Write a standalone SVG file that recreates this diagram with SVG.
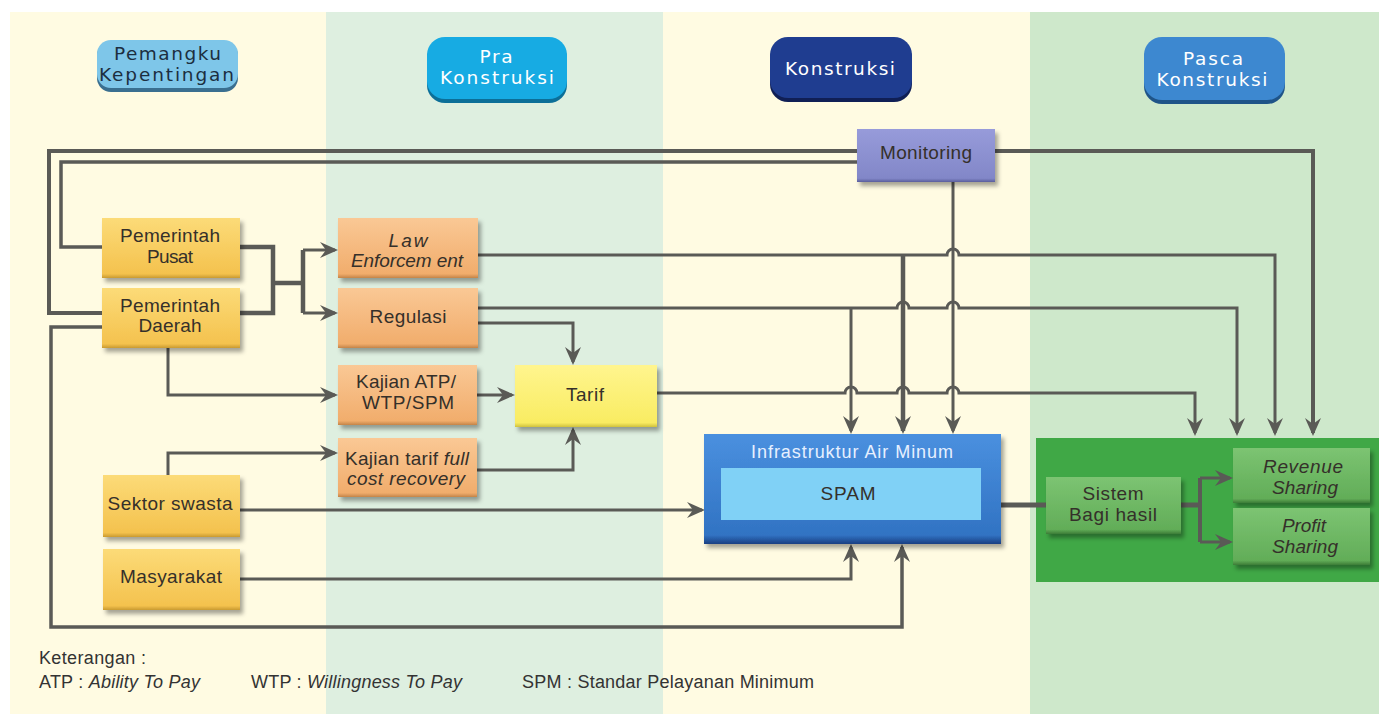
<svg xmlns="http://www.w3.org/2000/svg" width="1379" height="714" viewBox="0 0 1379 714">
<style>
.ln{fill:none;stroke:#5a5a56;stroke-width:3}
.tk{stroke-width:4.5}
.ar{marker-end:url(#ah)}
.t{font-family:"Liberation Sans",Arial,sans-serif;font-size:19px;fill:#35302a;text-anchor:middle}
.i{font-style:italic}
.h{font-family:"DejaVu Sans",Verdana,sans-serif;font-size:18.5px;text-anchor:middle}
.lg{font-family:"Liberation Sans",Arial,sans-serif;font-size:18px;fill:#333}
</style>
<defs>
<marker id="ah" markerUnits="userSpaceOnUse" viewBox="0 0 18 16" markerWidth="18" markerHeight="16" refX="15" refY="8" orient="auto">
<path d="M0,0 L18,8 L0,16 L6,8 Z" fill="#5a5a56"/>
</marker>
<filter id="sh" x="-10%" y="-10%" width="130%" height="140%">
<feDropShadow dx="3" dy="4" stdDeviation="2" flood-color="#000" flood-opacity="0.35"/>
</filter>
<linearGradient id="gy" x1="0" y1="0" x2="0" y2="1"><stop offset="0" stop-color="#fcdb78"/><stop offset="0.93" stop-color="#f4c24e"/><stop offset="1" stop-color="#c99a30"/></linearGradient>
<linearGradient id="go" x1="0" y1="0" x2="0" y2="1"><stop offset="0" stop-color="#fac895"/><stop offset="0.93" stop-color="#f1ad6c"/><stop offset="1" stop-color="#c48448"/></linearGradient>
<linearGradient id="gt" x1="0" y1="0" x2="0" y2="1"><stop offset="0" stop-color="#fff58e"/><stop offset="0.93" stop-color="#f9ec62"/><stop offset="1" stop-color="#cfc23e"/></linearGradient>
<linearGradient id="gm" x1="0" y1="0" x2="0" y2="1"><stop offset="0" stop-color="#979bda"/><stop offset="0.93" stop-color="#8287c8"/><stop offset="1" stop-color="#5a5e9c"/></linearGradient>
<linearGradient id="gg" x1="0" y1="0" x2="0" y2="1"><stop offset="0" stop-color="#7cc472"/><stop offset="0.92" stop-color="#62ad58"/><stop offset="1" stop-color="#3d7c37"/></linearGradient>
<linearGradient id="gb" x1="0" y1="0" x2="0" y2="1"><stop offset="0" stop-color="#4a90df"/><stop offset="0.92" stop-color="#3173c3"/><stop offset="1" stop-color="#1b3f82"/></linearGradient>
</defs>

<!-- backgrounds -->
<rect x="0" y="0" width="1379" height="714" fill="#ffffff"/>
<rect x="10" y="12" width="316" height="702" fill="#fffbe2"/>
<rect x="326" y="12" width="337" height="702" fill="#deefe0"/>
<rect x="663" y="12" width="367" height="702" fill="#fffbe2"/>
<rect x="1030" y="12" width="349" height="702" fill="#cee8cb"/>
<rect x="1036" y="438" width="343" height="144" fill="#40a846"/>

<!-- header pills -->
<g id="hdr-pemangku">
<rect x="97" y="42" width="141" height="50" rx="14" fill="#3a6f90"/>
<rect x="97" y="40" width="141" height="48" rx="14" fill="#7ec6e9"/>
<text class="h" x="167.5" y="60" textLength="107" fill="#1c2e40">Pemangku</text>
<text class="h" x="166.5" y="81" textLength="135" fill="#1c2e40">Kepentingan</text>
</g>
<g id="hdr-pra">
<rect x="427" y="40" width="140" height="63" rx="18" fill="#0c6f98"/>
<rect x="427" y="37" width="140" height="62" rx="18" fill="#17abe3"/>
<text class="h" x="496" y="63" textLength="33" fill="#ffffff">Pra</text>
<text class="h" x="497" y="84" textLength="114" fill="#ffffff">Konstruksi</text>
</g>
<g id="hdr-konstruksi">
<rect x="770" y="40" width="142" height="62" rx="18" fill="#101f55"/>
<rect x="770" y="37" width="142" height="61" rx="18" fill="#1f3d90"/>
<text class="h" x="840" y="75" textLength="110" fill="#ffffff">Konstruksi</text>
</g>
<g id="hdr-pasca">
<rect x="1144" y="40" width="141" height="64" rx="18" fill="#1f5488"/>
<rect x="1144" y="37" width="141" height="63" rx="18" fill="#3d88d0"/>
<text class="h" x="1213" y="65" textLength="60" fill="#ffffff">Pasca</text>
<text class="h" x="1212" y="86" textLength="111" fill="#ffffff">Konstruksi</text>
</g>

<!-- connectors -->
<g id="connectors">
<path class="ln" style="stroke-width:4" d="M857,151 H49 V313 H102"/>
<path class="ln" style="stroke-width:3.5" d="M857,162 H61 V247 H102"/>
<path class="ln ar" style="stroke-width:4" d="M995,151 H1313 V433"/>
<path class="ln ar" d="M953,182 V431"/>
<path class="ln ar" d="M478,255 H947 A6,6 0 0 1 959,255 H1275 V433"/>
<path class="ln tk ar" d="M903,255 V431"/>
<path class="ln ar" d="M478,308 H897 A6,6 0 0 1 909,308 H947 A6,6 0 0 1 959,308 H1237 V433"/>
<path class="ln ar" d="M851,308 V431"/>
<path class="ln ar" d="M478,323 H573 V362"/>
<path class="ln ar" d="M657,393 H845 A6,6 0 0 1 857,393 H897 A6,6 0 0 1 909,393 H947 A6,6 0 0 1 959,393 H1195 V433"/>
<path class="ln tk" d="M240,247 H273 V313 H240"/>
<path class="ln tk" d="M273,283 H303"/>
<path class="ln tk" d="M303,250 V313"/>
<path class="ln ar" d="M303,250 H335"/>
<path class="ln ar" d="M303,313 H335"/>
<path class="ln ar" d="M168,348 V395 H335"/>
<path class="ln ar" d="M477,395 H512"/>
<path class="ln ar" d="M168,475 V453 H335"/>
<path class="ln ar" d="M477,470 H573 V430"/>
<path class="ln ar" d="M240,510 H702"/>
<path class="ln ar" d="M240,579 H851 V547"/>
<path class="ln ar" style="stroke-width:3.5" d="M102,327 H51 V627 H902 V547"/>
<path class="ln" style="stroke-width:5" d="M1001,505 H1046"/>
<path class="ln" style="stroke-width:5" d="M1181,505 H1200"/>
<path class="ln" style="stroke-width:4" d="M1200,478 V542"/>
<path class="ln ar" d="M1200,478 H1230"/>
<path class="ln ar" d="M1200,542 H1230"/>
</g>

<!-- nodes -->
<g id="pemerintah-pusat">
<rect x="102" y="218" width="138" height="60" fill="url(#gy)" filter="url(#sh)"/>
<text class="t" x="170" y="242" textLength="100">Pemerintah</text>
<text class="t" x="170" y="263" textLength="46">Pusat</text>
</g>
<g id="pemerintah-daerah">
<rect x="102" y="288" width="138" height="60" fill="url(#gy)" filter="url(#sh)"/>
<text class="t" x="170" y="312" textLength="100">Pemerintah</text>
<text class="t" x="170" y="332" textLength="63">Daerah</text>
</g>
<g id="sektor-swasta">
<rect x="103" y="475" width="137" height="62" fill="url(#gy)" filter="url(#sh)"/>
<text class="t" x="170" y="510" textLength="125">Sektor swasta</text>
</g>
<g id="masyarakat">
<rect x="103" y="549" width="137" height="61" fill="url(#gy)" filter="url(#sh)"/>
<text class="t" x="171" y="583" textLength="102">Masyarakat</text>
</g>
<g id="law-enforcement">
<rect x="338" y="218" width="140" height="60" fill="url(#go)" filter="url(#sh)"/>
<text class="t i" x="408" y="247" textLength="39">Law</text>
<text class="t i" x="407" y="267" textLength="112">Enforcem ent</text>
</g>
<g id="regulasi">
<rect x="338" y="288" width="140" height="60" fill="url(#go)" filter="url(#sh)"/>
<text class="t" x="408" y="323" textLength="77">Regulasi</text>
</g>
<g id="kajian-atp">
<rect x="338" y="365" width="139" height="60" fill="url(#go)" filter="url(#sh)"/>
<text class="t" x="406" y="388" textLength="100">Kajian ATP/</text>
<text class="t" x="408" y="409" textLength="92">WTP/SPM</text>
</g>
<g id="kajian-tarif">
<rect x="338" y="438" width="139" height="59" fill="url(#go)" filter="url(#sh)"/>
<text class="t" x="407" y="465" textLength="124">Kajian tarif <tspan class="i">full</tspan></text>
<text class="t i" x="406" y="485" textLength="118">cost recovery</text>
</g>
<g id="tarif">
<rect x="515" y="365" width="142" height="62" fill="url(#gt)" filter="url(#sh)"/>
<text class="t" x="585" y="401" textLength="38">Tarif</text>
</g>
<g id="monitoring">
<rect x="857" y="129" width="138" height="53" fill="url(#gm)" filter="url(#sh)"/>
<text class="t" x="926" y="159" textLength="92" fill="#22254f">Monitoring</text>
</g>
<g id="infrastruktur">
<rect x="704" y="434" width="297" height="110" fill="url(#gb)" filter="url(#sh)"/>
<text class="t" x="852" y="458" textLength="202" style="font-size:18px;fill:#e6f0ff">Infrastruktur Air Minum</text>
<rect x="721" y="468" width="260" height="52" fill="#80d1f6"/>
<text class="t" x="848" y="500" textLength="55" fill="#1d2f4a">SPAM</text>
</g>
<g id="sistem-bagi-hasil">
<rect x="1046" y="477" width="135" height="57" fill="url(#gg)" filter="url(#sh)"/>
<text class="t" x="1113" y="500" textLength="61" fill="#1f2f1c">Sistem</text>
<text class="t" x="1113" y="521" textLength="88" fill="#1f2f1c">Bagi hasil</text>
</g>
<g id="revenue-sharing">
<rect x="1233" y="448" width="137" height="55" fill="url(#gg)" filter="url(#sh)"/>
<text class="t i" x="1303" y="473" textLength="80" fill="#1f2f1c">Revenue</text>
<text class="t i" x="1305" y="494" textLength="66" fill="#1f2f1c">Sharing</text>
</g>
<g id="profit-sharing">
<rect x="1233" y="508" width="137" height="57" fill="url(#gg)" filter="url(#sh)"/>
<text class="t i" x="1304" y="532" textLength="44" fill="#1f2f1c">Profit</text>
<text class="t i" x="1305" y="553" textLength="66" fill="#1f2f1c">Sharing</text>
</g>

<!-- legend -->
<g id="legend">
<text class="lg" x="39" y="664" textLength="107">Keterangan :</text>
<text class="lg" x="39" y="688" textLength="161">ATP : <tspan class="i">Ability To Pay</tspan></text>
<text class="lg" x="251" y="688" textLength="211">WTP : <tspan class="i">Willingness To Pay</tspan></text>
<text class="lg" x="522" y="688" textLength="292">SPM : Standar Pelayanan Minimum</text>
</g>
</svg>
